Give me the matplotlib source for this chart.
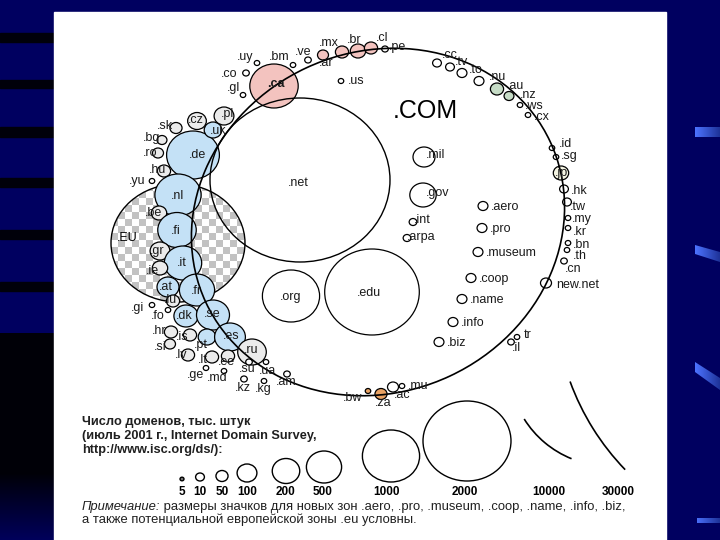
import matplotlib.pyplot as plt
import numpy as np
from matplotlib.patches import Ellipse, Rectangle, Polygon, Arc
from matplotlib.colors import ListedColormap

plt.rcParams['font.family'] = ['Liberation Sans', 'DejaVu Sans']

# зоны: имя, центр x, центр y, радиус (px), заливка, позиция подписи
top_zones = [
    ('.uy', 257, 63, 2.5, 'w', 245, 57), ('.bm', 293, 65, 2.5, 'w', 279, 57),
    ('.ve', 308, 60, 3, 'w', 303, 52), ('.co', 246, 73, 3, 'w', 229, 74),
    ('.gl', 243, 95, 2.5, 'w', 234, 88), ('.ca', 274, 86, 22, 'p', 276, 84),
    ('.ar', 323, 55, 5, 'p', 326, 63), ('.mx', 342, 52, 6, 'p', 329, 43),
    ('.br', 358, 51, 7, 'p', 354, 40), ('.cl', 371, 48, 6, 'p', 382, 38),
    ('.pe', 385, 49, 3, 'w', 398, 47), ('.us', 341, 81, 2.5, 'w', 356, 81),
]
asia_zones = [
    ('.cc', 437, 63, 4, 'w', 450, 55), ('.tv', 450, 67, 4, 'w', 462, 62),
    ('.to', 462, 73, 4.5, 'w', 476, 70), ('.nu', 479, 81, 4.5, 'w', 497, 77),
    ('.au', 497, 89, 6, 'n', 516, 86), ('.nz', 509, 96, 4.5, 'n', 528, 95),
    ('.ws', 520, 105, 2.5, 'w', 534, 106), ('.cx', 528, 115, 2.5, 'w', 542, 117),
    ('.id', 552, 148, 2.5, 'w', 565, 144), ('.sg', 556, 157, 2.5, 'w', 569, 156),
    ('.jp', 561, 173, 7, 'y', 562, 173), ('.hk', 564, 189, 4, 'w', 579, 191),
    ('.tw', 567, 202, 4, 'w', 578, 207), ('.my', 568, 218, 2.5, 'w', 582, 219),
    ('.kr', 568, 228, 2.5, 'w', 580, 232), ('.bn', 568, 243, 2.5, 'w', 582, 245),
    ('.th', 567, 250, 2.5, 'w', 580, 256), ('.cn', 564, 261, 3, 'w', 573, 269),
    ('new.net', 546, 283, 5, 'w', 578, 285), ('tr', 517, 337, 2.5, 'w', 528, 335),
    ('.il', 511, 342, 3, 'w', 516, 348),
]
africa_zones = [
    ('.bw', 368, 391, 2.5, 'o', 353, 398), ('.za', 381, 394, 5.5, 'o', 383, 403),
    ('.ac', 393, 387, 5, 'w', 402, 395), ('.mu', 402, 386, 2.5, 'w', 418, 386),
]
europe_zones = [
    ('.de', 193, 155, 24, 'b', 197, 155), ('.uk', 213, 130, 8, 'b', 218, 131),
    ('.pl', 224, 116, 9, 'g', 227, 114), ('.cz', 197, 121, 8.5, 'g', 196, 120),
    ('.sk', 176, 128, 5.5, 'g', 165, 126), ('.bg', 162, 140, 4.5, 'g', 152, 138),
    ('.ro', 158, 153, 5, 'g', 150, 153), ('.hu', 164, 171, 6, 'g', 157, 170),
    ('.yu', 152, 181, 2.5, 'w', 137, 181), ('.nl', 178, 195, 21, 'b', 177, 196),
    ('.be', 159, 213, 7, 'g', 153, 213), ('.fi', 177, 230, 17.5, 'b', 176, 231),
    ('.gr', 160, 251, 9, 'g', 157, 251), ('.it', 183, 263, 17, 'b', 182, 263),
    ('.ie', 160, 268, 7, 'g', 152, 271), ('.at', 168, 287, 10, 'b', 166, 287),
    ('.fr', 197, 290, 16, 'b', 196, 291), ('.lu', 173, 301, 6, 'g', 170, 300),
    ('.gi', 152, 305, 2.5, 'w', 137, 308), ('.fo', 168, 310, 2.5, 'w', 158, 316),
    ('.dk', 186, 316, 11, 'b', 184, 316), ('.se', 213, 315, 15, 'b', 212, 314),
    ('.hr', 171, 332, 6, 'g', 159, 331), ('.is', 190, 335, 6, 'g', 182, 337),
    ('.pt', 207, 337, 8, 'b', 201, 345), ('.es', 230, 337, 14, 'b', 231, 336),
    ('.si', 170, 344, 5, 'g', 160, 347), ('.lv', 188, 355, 6, 'g', 181, 355),
    ('.lt', 212, 357, 6, 'g', 203, 360), ('.ee', 228, 356, 6, 'g', 226, 362),
    ('.ru', 252, 352, 13, 'g', 251, 350), ('.su', 249, 362, 3, 'w', 247, 369),
    ('.ua', 266, 362, 2.5, 'w', 268, 371), ('.ge', 206, 368, 2.5, 'w', 196, 375),
    ('.md', 224, 371, 2.5, 'w', 217, 378), ('.kz', 244, 379, 3, 'w', 243, 388),
    ('.kg', 264, 381, 2.5, 'w', 263, 389), ('.am', 287, 374, 3, 'w', 286, 382),
]
inner_zones = [
    ('.org', 291, 296, 26, 'w', 291, 297), ('.edu', 372, 292, 43, 'w', 369, 293),
    ('.mil', 424, 157, 10, 'w', 436, 155), ('.gov', 423, 195, 12, 'w', 438, 193),
    ('.int', 413, 222, 3.5, 'w', 422, 220), ('.arpa', 407, 238, 3.5, 'w', 421, 237),
]
new_zones = ['.aero', '.pro', '.museum', '.coop', '.name', '.info', '.biz']
new_x = [483, 482, 478, 471, 462, 453, 439]
new_y = [206, 228, 252, 278, 299, 322, 342]

# легенда
legend_counts = ['5', '10', '50', '100', '200', '500', '1000', '2000', '10000', '30000']
legend_x = [182, 200, 222, 247, 286, 324, 391, 467]
legend_y = [479, 477, 476, 473, 471, 467, 456, 441]
legend_r = [1.8, 4, 5.5, 9, 12.5, 16, 26, 40]
label_x = [182, 200, 222, 247, 286, 323, 387, 465, 549, 618]

FILL = {'w': 'white', 'b': '#c4e1f6', 'g': '#ebebeb', 'p': '#f3c3bf',
        'n': '#c6dcc6', 'o': '#e9a263', 'y': '#f5f5e3'}
SX = 1.1  # картинка растянута по горизонтали
FS = 9

fig = plt.figure(figsize=(7.2, 5.4), dpi=100, facecolor='#000060')
ax = fig.add_axes([0, 0, 1, 1])
ax.set_facecolor('#000060')

# фон слайда
for y0, y1 in [(33, 42), (80, 88), (127, 137), (178, 187), (230, 239), (282, 291)]:
    ax.add_patch(Rectangle((0, y0), 54, y1 - y0, color='#00000a', zorder=0))
t = np.clip((np.arange(207) - 140) / 67, 0, 1)
grad = np.zeros((207, 1, 3))
grad[:, 0, 2] = 0.03 + 0.33 * t
ax.imshow(grad, extent=(0, 54, 540, 333), aspect='auto', zorder=0)
shade = np.zeros((1, 25, 3))
shade[0, :, 0] = np.linspace(0.3, 0.12, 25)
shade[0, :, 1] = np.linspace(0.45, 0.2, 25)
shade[0, :, 2] = np.linspace(1.0, 0.6, 25)
for pts in [[(695, 127), (720, 127), (720, 137), (695, 137)],
            [(695, 245), (720, 252), (720, 262), (695, 254)],
            [(695, 362), (720, 378), (720, 390), (695, 372)],
            [(697, 518), (720, 518), (720, 523), (697, 523)]]:
    poly = Polygon(pts, facecolor='none', edgecolor='none', zorder=0)
    ax.add_patch(poly)
    ys = [p[1] for p in pts]
    sim = ax.imshow(shade, extent=(695, 720, max(ys), min(ys)), aspect='auto', zorder=0)
    sim.set_clip_path(poly)
ax.add_patch(Rectangle((54, 12), 612, 528, color='white', zorder=0.5))

# зона .EU в клетку
eu = Ellipse((178, 243), 134, 118, facecolor='none', edgecolor='black', lw=1, zorder=2)
ax.add_patch(eu)
board = (np.add.outer(np.arange(17), np.arange(20)) % 2)
im = ax.imshow(board, cmap=ListedColormap(['white', '#c2c2c2']), interpolation='nearest',
               extent=(111, 251, 303, 184), aspect='auto', zorder=1)
im.set_clip_path(eu)
ax.text(127, 238, '.EU', fontsize=FS, ha='center', va='center', zorder=6)


def bubble(name, x, y, r, fill, lx, ly, **kw):
    ax.add_patch(Ellipse((x, y), 2 * r * SX, 2 * r, facecolor=FILL[fill],
                         edgecolor='black', lw=0.9, zorder=3))
    ax.text(lx, ly, name, fontsize=FS, ha='center', va='center', color='#1a1a1a',
            zorder=6, **kw)


for group in [top_zones, asia_zones, africa_zones, europe_zones, inner_zones]:
    for z in group:
        bubble(*z, fontweight='bold' if z[0] == '.ca' else 'normal')

for name, x, y in zip(new_zones, new_x, new_y):
    ax.add_patch(Ellipse((x, y), 9 * SX, 9, facecolor='white', edgecolor='black', lw=0.9, zorder=3))
    ax.text(x + 8, y + 1, name, fontsize=FS, ha='left', va='center', color='#1a1a1a', zorder=6)

# .com и .net
ax.add_patch(Ellipse((378, 222), 380, 340, angle=-25, fill=False, edgecolor='black', lw=1.2, zorder=5))
ax.add_patch(Ellipse((300, 180), 180, 164, fill=False, edgecolor='black', lw=1, zorder=5))
ax.text(298, 183, '.net', fontsize=FS, ha='center', va='center', color='#1a1a1a', zorder=6)
ax.text(425, 111, '.COM', fontsize=18, ha='center', va='center', zorder=6)

# легенда
ax.text(82, 422, 'Число доменов, тыс. штук', fontsize=9.2, fontweight='bold', va='center', color='#202020')
ax.text(82, 436, '(июль 2001 г., Internet Domain Survey,', fontsize=9.2, fontweight='bold',
        va='center', color='#202020')
ax.text(82, 450, 'http://www.isc.org/ds/):', fontsize=9.2, fontweight='bold', va='center', color='#202020')
for i, (x, y, r) in enumerate(zip(legend_x, legend_y, legend_r)):
    fc = '#777777' if i == 0 else 'none'
    ax.add_patch(Ellipse((x, y), 2 * r * SX, 2 * r, facecolor=fc, edgecolor='black', lw=1, zorder=3))
ax.add_patch(Arc((609, 366), 200, 200, theta1=112, theta2=148, lw=1.2, zorder=3))
ax.add_patch(Arc((805, 296), 500, 500, theta1=136, theta2=160, lw=1.2, zorder=3))
for lab, x in zip(legend_counts, label_x):
    ax.text(x, 492, lab, fontsize=8.5, fontweight='bold', ha='center', va='center')

t1 = ax.text(82, 507, 'Примечание:', fontsize=9.4, style='italic', va='center', color='#202020')
ax.annotate(' размеры значков для новых зон .aero, .pro, .museum, .coop, .name, .info, .biz,',
            xy=(1, 0.5), xycoords=t1, fontsize=9.4, va='center', color='#202020')
ax.text(82, 520, 'а также потенциальной европейской зоны .eu условны.', fontsize=9.4,
        va='center', color='#202020')

ax.set_xlim(0, 720)
ax.set_ylim(540, 0)
ax.axis('off')
fig.savefig('out.png', dpi=100, facecolor=fig.get_facecolor())
